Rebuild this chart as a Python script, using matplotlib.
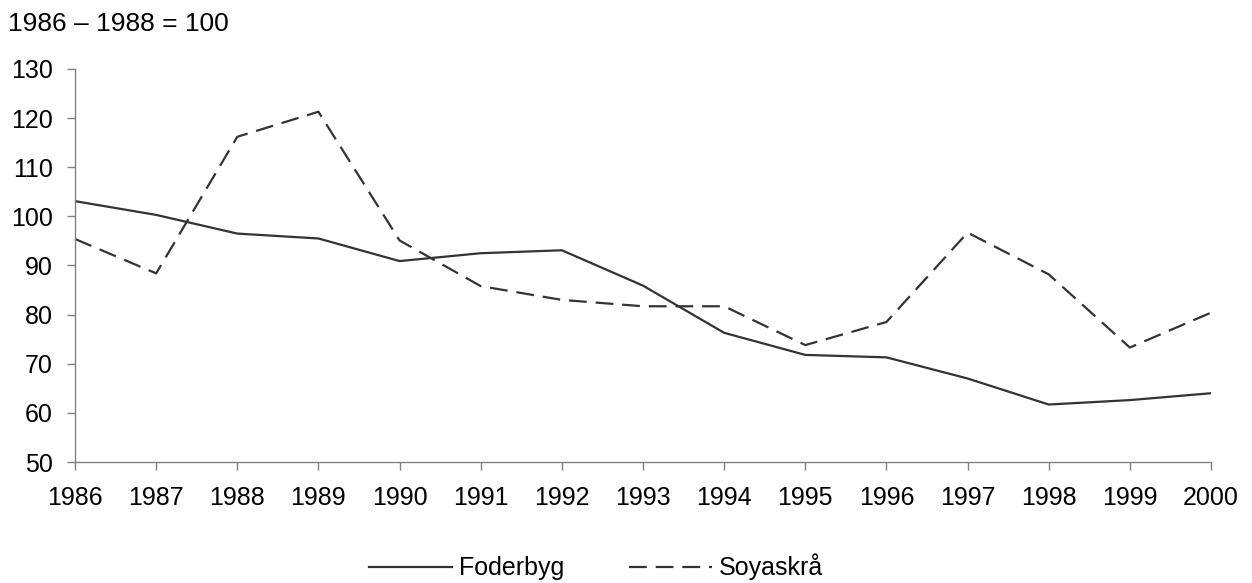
import matplotlib
matplotlib.use('Agg')
import matplotlib.pyplot as plt

# data (index, 1986-1988 = 100)
years = list(range(1986, 2001))
foderbyg = [103.1, 100.3, 96.5, 95.5, 90.9, 92.5, 93.1, 85.9, 76.3, 71.8, 71.3, 67.0, 61.7, 62.6, 64.0]
soyaskraa = [95.4, 88.4, 116.2, 121.3, 95.1, 85.8, 83.0, 81.7, 81.7, 73.8, 78.5, 96.7, 88.2, 73.3, 80.4]
yticks = [50, 60, 70, 80, 90, 100, 110, 120, 130]

plt.rcParams['font.family'] = ['Liberation Sans', 'DejaVu Sans']
fs = 18
line_col = '#333333'
axis_col = '#808080'

fig = plt.figure(figsize=(12.52, 5.83), dpi=100)
ax = fig.add_axes([75/1252, 1-462/583, (1211-75)/1252, (462-69)/583])

ax.plot(years, foderbyg, color=line_col, lw=1.6, label='Foderbyg')
ax.plot(years, soyaskraa, color=line_col, lw=1.6, dashes=(8, 4), label='Soyaskrå')

ax.set_xlim(1986, 2000)
ax.set_ylim(50, 130)
ax.set_xticks(years)
ax.set_yticks(yticks)
ax.tick_params(axis='both', labelsize=fs, colors='black', length=6, width=1, direction='out')
ax.tick_params(axis='x', color=axis_col, pad=11)
ax.tick_params(axis='y', color=axis_col, pad=10)

for s in ['top', 'right']:
    ax.spines[s].set_visible(False)
for s in ['left', 'bottom']:
    ax.spines[s].set_color(axis_col)
    ax.spines[s].set_linewidth(1)

fig.text(8/1252, 1-31/583, '1986 – 1988 = 100', fontsize=19, ha='left', va='baseline')

fig.legend(loc='center', bbox_to_anchor=(596/1252, 1-567/583), ncol=2, frameon=False,
           fontsize=fs, handlelength=3.3, handletextpad=0.28, columnspacing=2.6)

fig.savefig('out.png', dpi=100)
